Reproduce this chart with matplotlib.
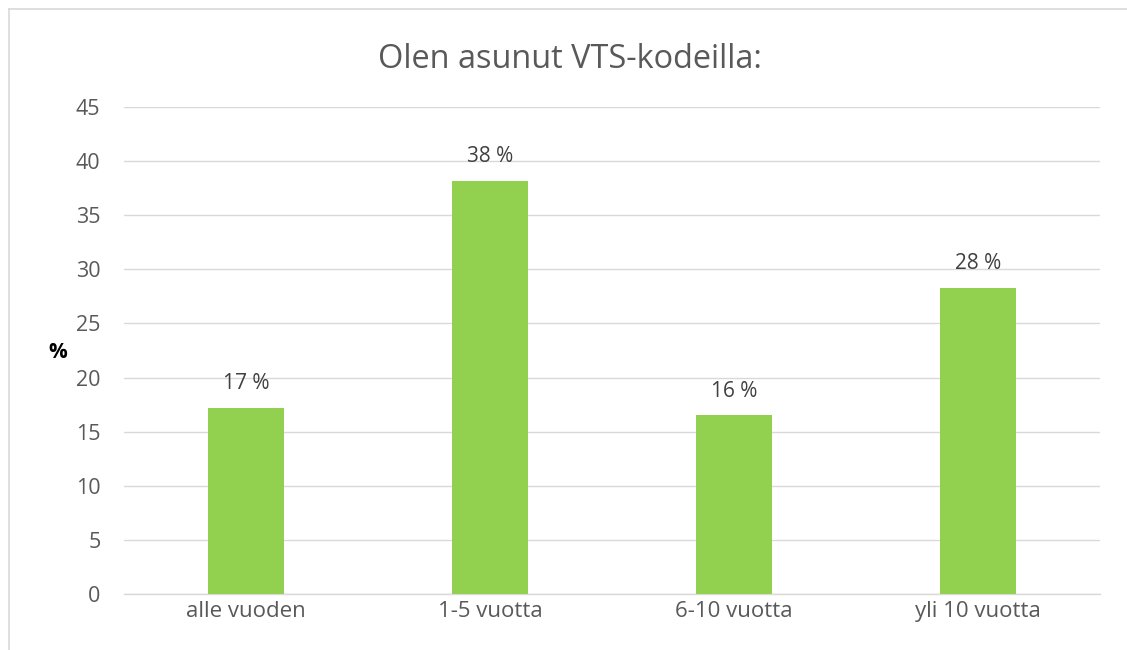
import matplotlib
matplotlib.use("Agg")
import matplotlib.pyplot as plt
from matplotlib.lines import Line2D

categories = ["alle vuoden", "1-5 vuotta", "6-10 vuotta", "yli 10 vuotta"]
values = [17.2, 38.2, 16.5, 28.3]
labels = ["17 %", "38 %", "16 %", "28 %"]
yticks = [0, 5, 10, 15, 20, 25, 30, 35, 40, 45]

W, H = 1127, 650
fig = plt.figure(figsize=(W / 100, H / 100), dpi=100)
plt.rcParams['font.family'] = ['Open Sans', 'DejaVu Sans']

ax = fig.add_axes([124 / W, 1 - 594 / H, (1100 - 124) / W, (594 - 107) / H])
x = list(range(len(categories)))
ax.bar(x, values, width=0.31, color="#92D050", zorder=3)
ax.set_xlim(-0.5, len(categories) - 0.5)
ax.set_ylim(0, 45)
ax.set_yticks(yticks)
ax.set_yticklabels([str(t) for t in yticks], fontsize=15.5, color="#595959")
ax.set_xticks(x)
ax.set_xticklabels(categories, fontsize=16, color="#595959")
ax.tick_params(axis='y', length=0, pad=17)
ax.tick_params(axis='x', length=0, pad=5)
ax.grid(axis='y', color="#D9D9D9", linewidth=1, zorder=0)
for s in ["top", "right", "left"]:
    ax.spines[s].set_visible(False)
ax.spines["bottom"].set_color("#D9D9D9")
ax.spines["bottom"].set_linewidth(1)

for xi, v, lab in zip(x, values, labels):
    ax.annotate(lab, (xi, v), xytext=(0, 10), textcoords="offset points",
                ha="center", va="bottom", fontsize=15, color="#404040")

fig.text(570 / W, 1 - 60 / H, "Olen asunut VTS-kodeilla:", ha="center", va="center",
         fontsize=23.4, color="#595959")
fig.text(58 / W, 1 - 352 / H, "%", ha="center", va="center", fontsize=15,
         fontweight="bold", color="black")

# outer chart border (partial, as cropped)
fig.add_artist(Line2D([8.5 / W, 8.5 / W], [0, 1 - 8.5 / H], transform=fig.transFigure,
                      color="#D9D9D9", linewidth=1.2))
fig.add_artist(Line2D([8.5 / W, 1], [1 - 8.5 / H, 1 - 8.5 / H], transform=fig.transFigure,
                      color="#D9D9D9", linewidth=1.2))

fig.savefig("out.png", dpi=100)
